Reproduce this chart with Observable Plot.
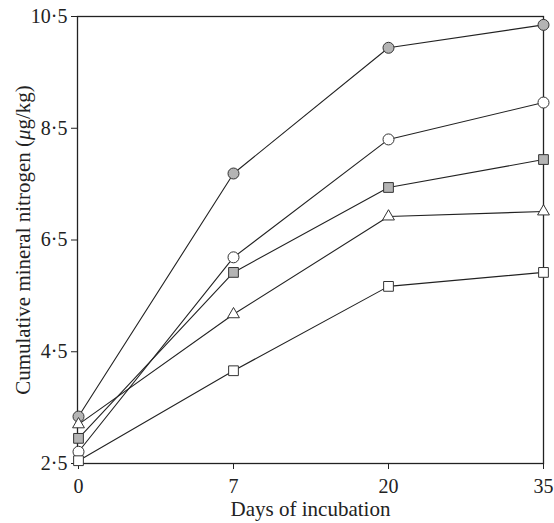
<!DOCTYPE html>
<html><head><meta charset="utf-8">
<script src="https://cdn.jsdelivr.net/npm/d3@7"></script>
<script src="https://cdn.jsdelivr.net/npm/@observablehq/plot@0.6"></script>
<style>
body{margin:0;background:#fff}
#chart svg text{font-family:"Liberation Serif","Times New Roman",serif;fill:#222}
</style>
</head><body><div id="chart"></div>
<script>
const days = ["0", "7", "20", "35"];
const grayCircle = [3.34, 7.69, 9.94, 10.35];
const openCircle = [2.71, 6.19, 8.30, 8.96];
const graySquare = [2.95, 5.92, 7.44, 7.94];
const openTriangle = [3.20, 5.17, 6.92, 7.01];
const openSquare = [2.55, 4.16, 5.67, 5.92];
const yTicks = [2.5, 4.5, 6.5, 8.5, 10.5];

const seriesDefs = [
  {name: "gc", values: grayCircle, symbol: "circle", fill: "#b4b4b4"},
  {name: "oc", values: openCircle, symbol: "circle", fill: "#ffffff"},
  {name: "gs", values: graySquare, symbol: "square", fill: "#b4b4b4"},
  {name: "ot", values: openTriangle, symbol: "triangle", fill: "#ffffff"},
  {name: "os", values: openSquare, symbol: "square", fill: "#ffffff"}
];
const rows = seriesDefs.flatMap(s => s.values.map((v, i) => ({series: s.name, day: days[i], value: v, symbol: s.symbol, fill: s.fill})));

const fmt = d => d3.format(".1f")(d).replace(".", "·");

const chart = Plot.plot({
  width: 554,
  height: 523,
  marginLeft: 77,
  marginRight: 11,
  marginTop: 16,
  marginBottom: 60,
  style: {fontFamily: "Liberation Serif, Times New Roman, serif", fontSize: "20px", color: "#222", background: "#fff"},
  x: {type: "point", domain: days, padding: 0},
  y: {domain: [2.5, 10.5]},
  marks: [
    Plot.frame({stroke: "#222", strokeWidth: 1.3}),
    Plot.axisX({ticks: days, tickSize: 6, tickPadding: 9, fontSize: 20, label: null}),
    Plot.axisX({ticks: [], tickSize: 0, label: "Days of incubation", labelAnchor: "center", labelArrow: "none", labelOffset: 52, fontSize: 21}),
    Plot.axisY({ticks: yTicks, tickFormat: fmt, tickSize: 6, tickPadding: 4, fontSize: 20, label: null}),
    Plot.axisY({ticks: [], tickSize: 0, label: "Cumulative mineral nitrogen (μg/kg)", labelAnchor: "center", labelArrow: "none", labelOffset: 62, fontSize: 21}),
    Plot.line(rows, {x: "day", y: "value", z: "series", stroke: "#222", strokeWidth: 1.1}),
    Plot.dot(rows.filter(d => d.symbol !== "triangle"), {x: "day", y: "value", symbol: "symbol", fill: "fill", stroke: "#333", strokeWidth: 1, r: 5.5}),
    Plot.dot(rows.filter(d => d.symbol === "triangle"), {x: "day", y: "value", symbol: "triangle", fill: "fill", stroke: "#333", strokeWidth: 1, r: 4.4})
  ]
});
document.getElementById("chart").append(chart);
// italic mu in the y label
d3.select(chart).selectAll("text").each(function() {
  const t = this.textContent;
  if (t.includes("μ")) {
    const sel = d3.select(this);
    const [a, b] = t.split("μ");
    sel.text(null);
    sel.append("tspan").text(a);
    sel.append("tspan").style("font-style", "italic").text("μ");
    sel.append("tspan").text(b);
  }
});
</script>
</body></html>
